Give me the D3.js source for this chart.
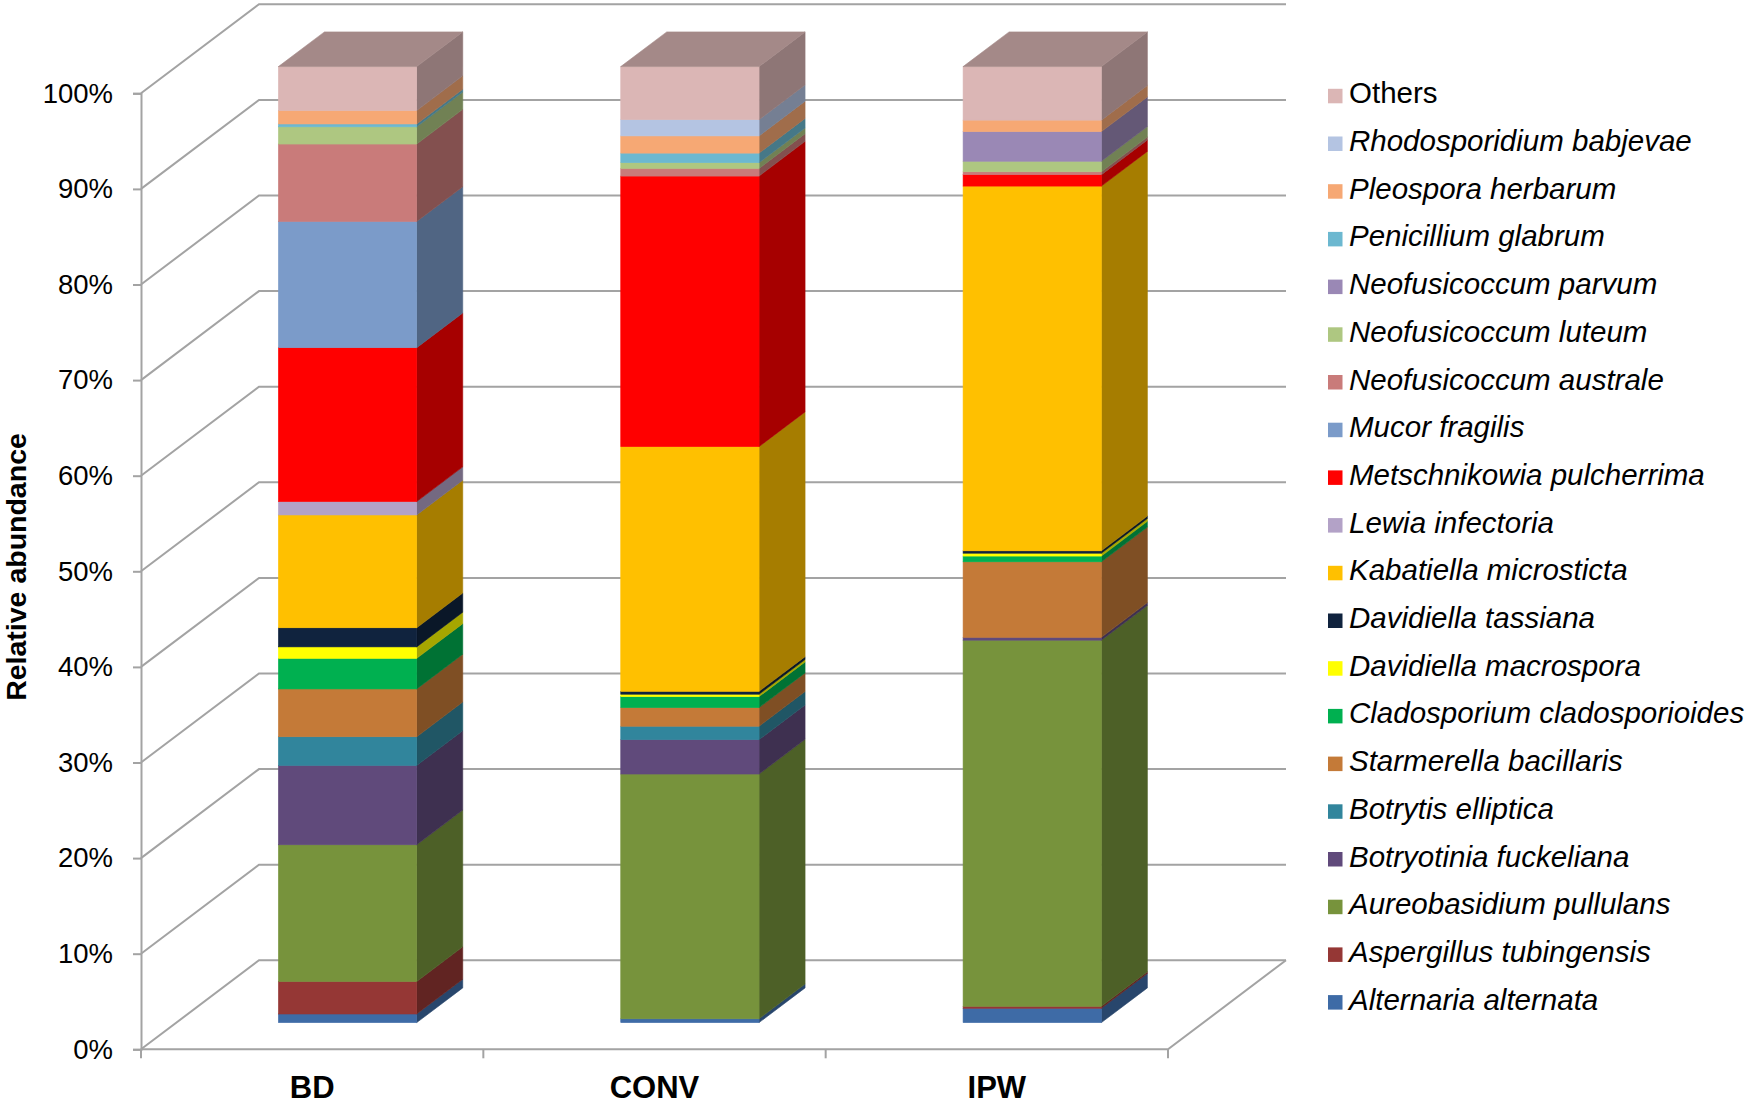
<!DOCTYPE html>
<html><head><meta charset="utf-8">
<script src="https://cdn.jsdelivr.net/npm/d3@7"></script>
<style>
body{margin:0;background:#fff}
svg{display:block;font-family:"Liberation Sans",Arial,Helvetica,sans-serif}
</style>
</head><body>
<svg id="chart" width="1750" height="1104"></svg>
<script>
// ---------- data ----------
const categories = ["BD", "CONV", "IPW"];
const species = [
  "Alternaria alternata", "Aspergillus tubingensis", "Aureobasidium pullulans",
  "Botryotinia fuckeliana", "Botrytis elliptica", "Starmerella bacillaris",
  "Cladosporium cladosporioides", "Davidiella macrospora", "Davidiella tassiana",
  "Kabatiella microsticta", "Lewia infectoria", "Metschnikowia pulcherrima",
  "Mucor fragilis", "Neofusicoccum australe", "Neofusicoccum luteum",
  "Neofusicoccum parvum", "Penicillium glabrum", "Pleospora herbarum",
  "Rhodosporidium babjevae", "Others"
];
const colors = [
  "#3e6ba6", "#953735", "#77933c", "#604a7b", "#31859c", "#c47a38",
  "#00b050", "#ffff00", "#10233e", "#ffc000", "#b3a2c7", "#ff0000",
  "#7b9bc9", "#c97b7a", "#aec781", "#9a88b5", "#6cb8d0", "#f6a874",
  "#b4c4e2", "#dbb6b5"
];
const valuesBD   = [0.9, 3.4, 14.3, 8.3, 3.0, 5.0, 3.2, 1.2, 2.0, 11.8, 1.4, 16.1, 13.2, 8.1, 1.8, 0, 0.3, 1.4, 0, 4.6];
const valuesCONV = [0.4, 0, 25.6, 3.6, 1.4, 1.95, 1.15, 0.25, 0.3, 25.6, 0, 28.3, 0, 0.8, 0.6, 0, 1.0, 1.8, 1.7, 5.55];
const valuesIPW  = [1.5, 0.2, 38.3, 0.3, 0, 7.9, 0.6, 0.3, 0.25, 38.15, 0, 1.2, 0, 0.3, 1.1, 3.1, 0, 1.2, 0, 5.6];
const yTicks = [0, 10, 20, 30, 40, 50, 60, 70, 80, 90, 100];
const yTitle = "Relative abundance";

// ---------- layout ----------
const svg = d3.select("#chart");
const wallDx = 118, wallDy = -89;           // depth of the 3-D box
const frontD = 0.30, backD = 0.69;          // bar depth fractions
const fdx = wallDx * frontD, fdy = wallDy * frontD;
const bdx = wallDx * (backD - frontD), bdy = wallDy * (backD - frontD);

const y = d3.scaleLinear().domain([0, 100]).range([1049.3, 93.3]);
const x = d3.scaleBand().domain(categories).range([141, 1168])
  .paddingInner(0.596).paddingOuter(0.298);

const gridColor = "#a3a3a3";
const grid = svg.append("g").attr("fill", "none").attr("stroke", gridColor).attr("stroke-width", 2);
const x0 = x.range()[0], x1 = x.range()[1];

// back wall gridlines + left wall diagonals
yTicks.forEach(t => {
  const yy = y(t);
  grid.append("path").attr("d",
    `M${x0},${yy} L${x0 + wallDx},${yy + wallDy} L${x1 + wallDx},${yy + wallDy}`);
});
// floor
grid.append("path").attr("d",
  `M${x0},${y(0)} L${x1},${y(0)} L${x1 + wallDx},${y(0) + wallDy}`);

// y axis
const yAxis = d3.axisLeft(y).tickValues(yTicks).tickFormat(d => d + "%")
  .tickSize(8).tickPadding(20);
const gy = svg.append("g").attr("transform", `translate(${x0},0)`).call(yAxis);
gy.select(".domain").attr("stroke", gridColor).attr("stroke-width", 2);
gy.selectAll(".tick line").attr("stroke", gridColor).attr("stroke-width", 2);
gy.selectAll(".tick text").attr("fill", "#000").attr("font-size", 27.5)
  .attr("font-family", '"Liberation Sans",Arial,sans-serif');

// x axis ticks at band boundaries
const step = x.step();
const boundaries = d3.range(categories.length + 1).map(i => x0 + i * step);
svg.append("g").selectAll("line").data(boundaries).join("line")
  .attr("x1", d => d).attr("x2", d => d)
  .attr("y1", y(0)).attr("y2", y(0) + 9)
  .attr("stroke", gridColor).attr("stroke-width", 2);

svg.append("g").selectAll("text").data(categories).join("text")
  .attr("x", d => x(d) + x.bandwidth() / 2)
  .attr("y", 1098)
  .attr("text-anchor", "middle")
  .attr("font-weight", "bold")
  .attr("font-size", 31)
  .text(d => d);

// ---------- stacked 3-D bars ----------
const series = [valuesBD, valuesCONV, valuesIPW];
const rows = categories.map((c, i) => {
  const r = { cat: c };
  species.forEach((s, j) => r[s] = series[i][j]);
  return r;
});
const stack = d3.stack().keys(species)(rows);
const shade = (c, k) => {
  const q = d3.rgb(c);
  return d3.rgb(q.r * k, q.g * k, q.b * k).formatHex();
};
const bw = x.bandwidth();
const barsG = svg.append("g");
stack.forEach((layer, j) => {
  const col = colors[j];
  layer.forEach((seg, i) => {
    const v0 = seg[0], v1 = seg[1];
    if (v1 - v0 <= 0) return;
    const cat = categories[i];
    const xl = x(cat) + fdx, xr = xl + bw;
    const yt = y(v1) + fdy, yb = y(v0) + fdy;
    // side face
    barsG.append("path")
      .attr("d", `M${xr},${yt} L${xr + bdx},${yt + bdy} L${xr + bdx},${yb + bdy} L${xr},${yb} Z`)
      .attr("fill", shade(col, 0.65)).attr("stroke", shade(col, 0.65)).attr("stroke-width", 0.6);
    // front face
    barsG.append("rect")
      .attr("x", xl).attr("y", yt).attr("width", bw).attr("height", yb - yt)
      .attr("fill", col).attr("stroke", col).attr("stroke-width", 0.6);
    // top face on the topmost segment
    if (j === species.length - 1) {
      barsG.append("path")
        .attr("d", `M${xl},${yt} L${xl + bdx},${yt + bdy} L${xr + bdx},${yt + bdy} L${xr},${yt} Z`)
        .attr("fill", shade(col, 0.75)).attr("stroke", shade(col, 0.75)).attr("stroke-width", 0.6);
    }
  });
});

// ---------- y title ----------
svg.append("text")
  .attr("transform", "translate(26,567) rotate(-90)")
  .attr("text-anchor", "middle")
  .attr("font-weight", "bold")
  .attr("font-size", 28.5)
  .text(yTitle);

// ---------- legend ----------
const legend = svg.append("g");
const legendItems = species.map((s, j) => ({ name: s, color: colors[j] })).reverse();
const lg = legend.selectAll("g").data(legendItems).join("g")
  .attr("transform", (d, k) => `translate(0,${103.3 + 47.7 * k})`);
lg.append("rect").attr("x", 1328).attr("y", -14.5).attr("width", 14.5).attr("height", 14.5)
  .attr("fill", d => d.color);
lg.append("text").attr("x", 1349).attr("y", 0)
  .attr("font-size", 29.5)
  .attr("font-style", d => d.name === "Others" ? "normal" : "italic")
  .attr("fill", "#000")
  .text(d => d.name);
</script>
</body></html>
